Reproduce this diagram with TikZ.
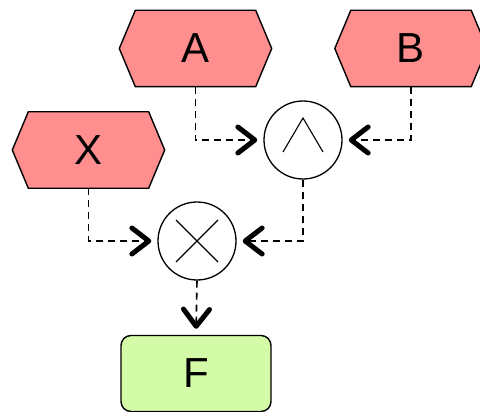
\documentclass[tikz,border=0pt]{standalone}
\usepackage{fontspec}
\setmainfont{Liberation Sans}
\usetikzlibrary{arrows.meta,backgrounds}
\definecolor{hexred}{HTML}{FF8F8F}
\definecolor{fgreen}{HTML}{D4FCA8}
\tikzset{
  hexnode/.style={minimum width=152pt, minimum height=76pt, inner sep=0pt,
    font=\fontsize{42}{50}\selectfont},
  hexshape/.style={draw=black, fill=hexred, line width=1.4pt, line join=miter},
  gate/.style={circle, draw=black, fill=white, line width=1.3pt, minimum size=78pt, inner sep=0pt},
  gatesym/.style={line width=1.1pt},
  resultbox/.style={draw=black, fill=fgreen, line width=1.4pt, rounded corners=10pt,
    minimum width=150pt, minimum height=76pt, inner sep=0pt, font=\fontsize{42}{50}\selectfont},
  flow/.style={line width=1.6pt, dash pattern=on 7pt off 5pt,
    -{Straight Barb[length=17pt,width=26pt,line width=5pt,round]}, shorten >=6pt},
}
\begin{document}
\begin{tikzpicture}[x=1pt,y=-1pt]
\useasboundingbox (0,0) rectangle (480,412);
\clip (0,0) rectangle (480,412);
\node[hexnode] (A) at (195.5,48.5) {A};
\node[hexnode] (B) at (411,48.5) {B};
\node[hexnode] (X) at (88.5,150) {X};
\begin{scope}[on background layer]
\fill[white] (0,0) rectangle (480,412);
\foreach \n in {A,B,X}
  \draw[hexshape] (\n.west) -- ([xshift=16pt]\n.north west) -- ([xshift=-16pt]\n.north east)
    -- (\n.east) -- ([xshift=-16pt]\n.south east) -- ([xshift=16pt]\n.south west) -- cycle;
\end{scope}
\node[gate] (and) at (303,140) {};
\draw[gatesym] ([shift={(-20,12)}]and.center) -- ([shift={(0,-22)}]and.center) -- ([shift={(20,12)}]and.center);
\node[gate] (mul) at (197,241) {};
\draw[gatesym] ([shift={(-21,21)}]mul.center) -- ([shift={(21,-21)}]mul.center);
\draw[gatesym] ([shift={(-21,-21)}]mul.center) -- ([shift={(21,21)}]mul.center);
\node[resultbox] (F) at (196,373.5) {F};
\draw[flow] (A.south) |- (and.west);
\draw[flow] (B.south) |- (and.east);
\draw[flow] (X.south) |- (mul.west);
\draw[flow] (and.south) |- (mul.east);
\draw[flow] (mul.south) -- (F.north);
\end{tikzpicture}
\end{document}
